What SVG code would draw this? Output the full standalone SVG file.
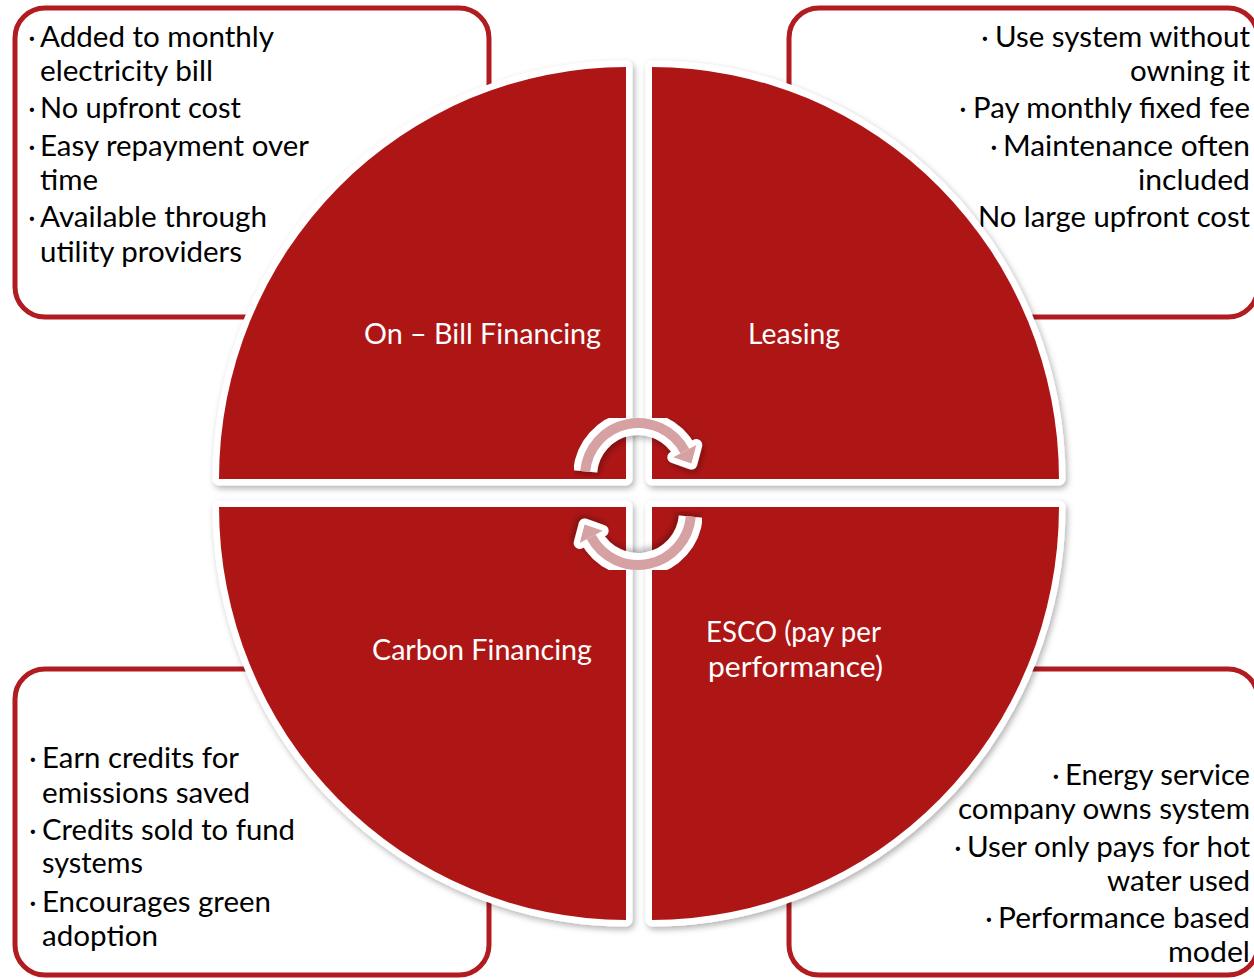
<svg xmlns="http://www.w3.org/2000/svg" width="1254" height="979" viewBox="0 0 1254 979">
<defs>
<style>
.box{fill:#fff;stroke:#B01C20;stroke-width:5}
.t{font-family:Lato,"Open Sans","Liberation Sans",sans-serif;font-size:28px;fill:#000}
.b{font-family:Lato,"Open Sans","Liberation Sans",sans-serif;font-size:28px;fill:#000;text-anchor:middle}
.r{text-anchor:end}
.q{fill:#AE1719;stroke:#fff;stroke-width:13;stroke-linejoin:round;paint-order:stroke}
.lab{font-family:Lato,"Open Sans","Liberation Sans",sans-serif;font-size:28px;fill:#fff}
.aw{fill:none;stroke:#fff;stroke-width:24}
.ap{fill:none;stroke:#D6A1A3;stroke-width:10}
.hw{fill:#fff;stroke:#fff;stroke-width:12;stroke-linejoin:round}
.hp{fill:#D6A1A3}
</style>
<filter id="sh" x="-10%" y="-10%" width="120%" height="120%">
<feDropShadow dx="2" dy="3" stdDeviation="3" flood-color="#000" flood-opacity="0.3"/>
</filter>
</defs>

<g id="box-onbill">
<rect class="box" x="15" y="8" width="474" height="309" rx="30"/>
<text class="b" x="32" y="47">·</text>
<text class="t" x="40" y="47" textLength="234" lengthAdjust="spacingAndGlyphs">Added to monthly</text>
<text class="t" x="40" y="81" textLength="173" lengthAdjust="spacingAndGlyphs">electricity bill</text>
<text class="b" x="32" y="118">·</text>
<text class="t" x="40" y="118" textLength="201" lengthAdjust="spacingAndGlyphs">No upfront cost</text>
<text class="b" x="32" y="156">·</text>
<text class="t" x="40" y="156" textLength="269" lengthAdjust="spacingAndGlyphs">Easy repayment over</text>
<text class="t" x="40" y="190" textLength="58" lengthAdjust="spacingAndGlyphs">time</text>
<text class="b" x="32" y="227">·</text>
<text class="t" x="40" y="227" textLength="227" lengthAdjust="spacingAndGlyphs">Available through</text>
<text class="t" x="40" y="262" textLength="202" lengthAdjust="spacingAndGlyphs">utility providers</text>
</g>

<g id="box-leasing">
<rect class="box" x="789" y="8" width="469" height="309" rx="30"/>
<text class="b" x="985" y="47">·</text>
<text class="t r" x="1250" y="47" textLength="255" lengthAdjust="spacingAndGlyphs">Use system without</text>
<text class="t r" x="1250" y="81" textLength="120" lengthAdjust="spacingAndGlyphs">owning it</text>
<text class="b" x="963" y="118">·</text>
<text class="t r" x="1250" y="118" textLength="277" lengthAdjust="spacingAndGlyphs">Pay monthly fixed fee</text>
<text class="b" x="994" y="156">·</text>
<text class="t r" x="1250" y="156" textLength="247" lengthAdjust="spacingAndGlyphs">Maintenance often</text>
<text class="t r" x="1250" y="190" textLength="112" lengthAdjust="spacingAndGlyphs">included</text>
<text class="t r" x="1250" y="227" textLength="272" lengthAdjust="spacingAndGlyphs">No large upfront cost</text>
</g>

<g id="box-carbon">
<rect class="box" x="15" y="669" width="474" height="306" rx="30"/>
<text class="b" x="33" y="768">·</text>
<text class="t" x="42" y="768" textLength="197" lengthAdjust="spacingAndGlyphs">Earn credits for</text>
<text class="t" x="42" y="803" textLength="208" lengthAdjust="spacingAndGlyphs">emissions saved</text>
<text class="b" x="33" y="840">·</text>
<text class="t" x="42" y="840" textLength="253" lengthAdjust="spacingAndGlyphs">Credits sold to fund</text>
<text class="t" x="42" y="873" textLength="101" lengthAdjust="spacingAndGlyphs">systems</text>
<text class="b" x="33" y="912">·</text>
<text class="t" x="42" y="912" textLength="229" lengthAdjust="spacingAndGlyphs">Encourages green</text>
<text class="t" x="42" y="946" textLength="116" lengthAdjust="spacingAndGlyphs">adoption</text>
</g>

<g id="box-esco">
<rect class="box" x="789" y="669" width="469" height="306" rx="30"/>
<text class="b" x="1056" y="785">·</text>
<text class="t r" x="1250" y="785" textLength="185" lengthAdjust="spacingAndGlyphs">Energy service</text>
<text class="t r" x="1250" y="819" textLength="292" lengthAdjust="spacingAndGlyphs">company owns system</text>
<text class="b" x="958" y="857">·</text>
<text class="t r" x="1250" y="857" textLength="283" lengthAdjust="spacingAndGlyphs">User only pays for hot</text>
<text class="t r" x="1250" y="891" textLength="143" lengthAdjust="spacingAndGlyphs">water used</text>
<text class="b" x="989" y="928">·</text>
<text class="t r" x="1250" y="928" textLength="252" lengthAdjust="spacingAndGlyphs">Performance based</text>
<text class="t r" x="1250" y="962" textLength="82" lengthAdjust="spacingAndGlyphs">model</text>
</g>

<g id="q-onbill">
<path class="q" filter="url(#sh)" d="M626,479 L219,479 A407,412 0 0 1 626,67 Z"/>
<text class="lab" x="364" y="344" textLength="237" lengthAdjust="spacingAndGlyphs">On – Bill Financing</text>
</g>
<g id="q-leasing">
<path class="q" filter="url(#sh)" d="M652,479 L652,67 A407,412 0 0 1 1059,479 Z"/>
<text class="lab" x="748" y="344" textLength="92" lengthAdjust="spacingAndGlyphs">Leasing</text>
</g>
<g id="q-carbon">
<path class="q" filter="url(#sh)" d="M626,507 L626,920 A407,413 0 0 1 219,507 Z"/>
<text class="lab" x="372" y="660" textLength="220" lengthAdjust="spacingAndGlyphs">Carbon Financing</text>
</g>
<g id="q-esco">
<path class="q" filter="url(#sh)" d="M652,507 L1059,507 A407,413 0 0 1 652,920 Z"/>
<text class="lab" x="706" y="642" textLength="175" lengthAdjust="spacingAndGlyphs">ESCO (pay per</text>
<text class="lab" x="708" y="677" textLength="175" lengthAdjust="spacingAndGlyphs">performance)</text>
</g>

<g id="connectors">
<g id="arrow-top" filter="url(#sh)">
<path class="aw" d="M585.2,471.4 A53,53 0 0 1 684.8,451.1"/>
<polygon class="hw" points="696.3,445.0 673.3,457.2 691.4,463.5"/>
<path class="ap" d="M585.2,471.4 A53,53 0 0 1 684.8,451.1"/>
<polygon class="hp" points="696.3,445.0 673.3,457.2 691.4,463.5"/>
</g>
<g id="arrow-bottom" filter="url(#sh)" transform="rotate(180 638 494)">
<path class="aw" d="M585.2,471.4 A53,53 0 0 1 684.8,451.1"/>
<polygon class="hw" points="696.3,445.0 673.3,457.2 691.4,463.5"/>
<path class="ap" d="M585.2,471.4 A53,53 0 0 1 684.8,451.1"/>
<polygon class="hp" points="696.3,445.0 673.3,457.2 691.4,463.5"/>
</g>
</g>
</svg>
